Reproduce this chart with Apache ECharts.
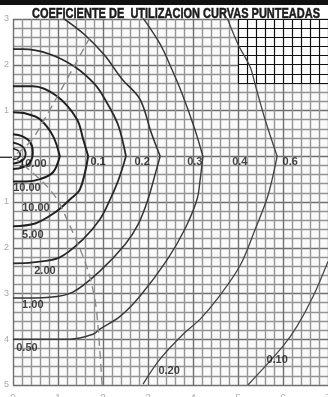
<!DOCTYPE html>
<html>
<head>
<meta charset="utf-8">
<script src="https://cdn.jsdelivr.net/npm/echarts@6/dist/echarts.min.js"></script>
<style>
  html, body { margin: 0; padding: 0; background: #fff; }
  #chart { width: 328px; height: 397px; }
</style>
</head>
<body>
<div id="chart"></div>
<script>
// curvas (x, y) ; y negativo = mitad inferior
const ring1 = [[0, 0.17], [0.12, 0.12], [0.16, 0.02], [0.1, -0.05], [0, -0.07]]
const ring2 = [[0, 0.3], [0.2, 0.22], [0.28, 0.05], [0.2, -0.1], [0, -0.16]]
const ring3 = [[0, 0.48], [0.2, 0.44], [0.38, 0.31], [0.44, 0.09], [0.38, -0.13], [0.2, -0.25], [0, -0.28]]

const c104Up = [[0, 0.96], [0.3, 0.93], [0.6, 0.81], [0.89, 0.44], [1.04, 0]]
const c104Down = [[1.04, 0], [0.89, -0.35], [0.6, -0.5], [0.3, -0.55], [0, -0.55]]

const c167Up = [[0, 1.53], [0.44, 1.53], [0.98, 1.31], [1.42, 0.81], [1.56, 0.37], [1.67, 0]]
const c167Down = [[1.67, 0], [1.49, -0.72], [1.27, -0.94], [0.93, -1.23], [0.49, -1.47], [0, -1.53]]

const c251Up = [[0, 2.34], [0.22, 2.34], [0.82, 2.23], [1.38, 1.95], [1.82, 1.57], [2.04, 1.25], [2.33, 0.7], [2.51, 0]]
const c251Down = [[2.51, 0], [2.35, -0.5], [2.16, -0.94], [1.93, -1.38], [1.56, -1.81], [1.04, -2.21], [0.44, -2.32], [0, -2.34]]

const c327Up = [[1.11, 3.02], [1.6, 2.65], [2.04, 2.2], [2.42, 1.69], [2.82, 1.25], [3.07, 0.52], [3.27, 0]]
const c327Down = [[3.27, 0], [3.16, -0.39], [3.0, -0.94], [2.78, -1.49], [2.49, -1.93], [1.93, -2.51], [1.33, -2.97], [0.82, -3.08], [0, -3.1]]

const c422Up = [[2.89, 3.02], [3.27, 2.45], [3.53, 1.9], [3.76, 1.36], [4.04, 0.59], [4.22, 0]]
const c422Down = [[4.22, 0], [4.16, -0.5], [4.09, -0.94], [3.82, -1.59], [3.42, -2.27], [2.82, -3.06], [2.38, -3.5], [1.93, -3.78], [1.78, -3.89], [1.27, -4.0], [0, -4.0]]

const c587Up = [[4.76, 3.02], [5.0, 2.45], [5.27, 1.95], [5.38, 1.57], [5.6, 0.81], [5.87, 0]]
const c587Down = [[5.87, 0], [5.76, -0.5], [5.64, -0.94], [5.38, -1.6], [5.04, -2.4], [4.53, -3.13], [4.16, -3.56], [3.78, -3.89], [3.27, -4.43], [2.89, -4.98]]

const c010Down = [[7, -2.3], [6.67, -3.06], [6.31, -3.72], [6.0, -4.15], [5.22, -5.0]]

// curva punteada
const dashUp = [[1.71, 2.6], [0.53, 0.52], [0.27, 0.2], [0, 0]]
const dashDown = [[0, 0], [0.67, -0.57], [0.98, -0.94], [1.2, -1.38], [1.49, -2.03], [1.67, -2.51], [1.82, -3.13], [1.89, -3.72], [1.98, -5.0]]

// etiquetas de las curvas
const curveLabels = ['10.00', '10.00', '10.00', '5.00', '2.00', '1.00', '0.50', '0.20', '0.10', '0.1', '0.2', '0.3', '0.4', '0.6']
const labelX = [0.44, 0.31, 0.51, 0.44, 0.71, 0.44, 0.31, 3.47, 5.87, 1.89, 2.87, 4.04, 5.04, 6.16]
const labelY = [-0.17, -0.7, -1.14, -1.73, -2.51, -3.26, -4.2, -4.7, -4.46, -0.13, -0.13, -0.13, -0.13, -0.13]

const xTicks = [0, 1, 2, 3, 4, 5, 6, 7]

const titleText = 'COEFICIENTE DE  UTILIZACION CURVAS PUNTEADAS'

const chart = echarts.init(document.getElementById('chart'))

// grosor / color por curva
const solidCurves = [
  { data: ring1, w: 1.6, c: '#1e1e1e' },
  { data: ring2, w: 1.8, c: '#1e1e1e' },
  { data: ring3, w: 2, c: '#1e1e1e' },
  { data: c104Up, w: 2, c: '#1e1e1e' },
  { data: c104Down, w: 2, c: '#1e1e1e' },
  { data: c167Up, w: 2, c: '#222' },
  { data: c167Down, w: 2, c: '#222' },
  { data: c251Up, w: 1.8, c: '#2a2a2a' },
  { data: c251Down, w: 1.7, c: '#2a2a2a' },
  { data: c327Up, w: 1.6, c: '#333' },
  { data: c327Down, w: 1.5, c: '#333' },
  { data: c422Up, w: 1.4, c: '#3a3a3a' },
  { data: c422Down, w: 1.4, c: '#3a3a3a' },
  { data: c587Up, w: 1.3, c: '#444' },
  { data: c587Down, w: 1.3, c: '#444' },
  { data: c010Down, w: 1.3, c: '#4a4a4a' }
]

const series = solidCurves.map(item => ({
  type: 'line',
  xAxisIndex: 0,
  yAxisIndex: 0,
  data: item.data,
  smooth: 0.35,
  showSymbol: false,
  silent: true,
  z: 3,
  lineStyle: { color: item.c, width: item.w }
}))

;[dashUp, dashDown].forEach(d => {
  series.push({
    type: 'line',
    data: d,
    smooth: 0.3,
    showSymbol: false,
    silent: true,
    z: 3,
    lineStyle: { color: '#8a8a8a', width: 1.4, type: [8, 5] }
  })
})

series.push({
  type: 'scatter',
  symbolSize: 0,
  silent: true,
  z: 5,
  data: curveLabels.map((t, i) => ({ name: t, value: [labelX[i], labelY[i]] })),
  label: {
    show: true,
    position: 'inside',
    formatter: p => p.name,
    color: '#151515',
    fontWeight: 'bold',
    fontSize: 11,
    fontFamily: 'Liberation Sans'
  }
})

chart.setOption({
  backgroundColor: '#fff',
  animation: false,
  grid: [{
    left: 13,
    right: 0,
    top: 19,
    bottom: 12,
    outerBoundsMode: 'none',
    containLabel: false,
    show: true,
    backgroundColor: '#fafafa',
    borderWidth: 0
  }, {
    left: 238,
    width: 90,
    top: 19,
    height: 64,
    outerBoundsMode: 'none',
    containLabel: false,
    show: true,
    backgroundColor: '#fff',
    borderWidth: 0,
    z: 1
  }],
  xAxis: [{
    type: 'value',
    gridIndex: 0,
    min: 0,
    max: 7,
    interval: 1,
    axisLine: { show: false },
    axisTick: { show: false },
    axisLabel: {
      color: '#b0b0b0',
      fontSize: 10,
      margin: 9,
      formatter: v => (xTicks.indexOf(v) >= 0 ? String(v) : '')
    },
    splitLine: { show: true, lineStyle: { color: '#707070', width: 1.4 } },
    minorTick: { show: false, splitNumber: 5 },
    minorSplitLine: { show: true, lineStyle: { color: '#959595', width: 1.4 } }
  }, {
    type: 'value',
    gridIndex: 1,
    min: 5,
    max: 7,
    interval: 0.2,
    z: 1,
    axisLine: { show: false },
    axisTick: { show: false },
    axisLabel: { show: false },
    splitLine: { show: true, lineStyle: { color: '#111', width: 1.2 } }
  }],
  yAxis: [{
    type: 'value',
    gridIndex: 0,
    min: -5,
    max: 3,
    interval: 1,
    axisLine: { show: false },
    axisTick: { show: false },
    axisLabel: {
      color: '#a8a8a8',
      fontSize: 9,
      margin: 4,
      formatter: v => (v === 0 ? '' : String(Math.abs(v)))
    },
    splitLine: { show: true, lineStyle: { color: '#707070', width: 1.4 } },
    minorTick: { show: false, splitNumber: 5 },
    minorSplitLine: { show: true, lineStyle: { color: '#959595', width: 1.4 } }
  }, {
    type: 'value',
    gridIndex: 1,
    min: 1.6,
    max: 3,
    interval: 0.2,
    z: 1,
    axisLine: { show: false },
    axisTick: { show: false },
    axisLabel: { show: false },
    splitLine: { show: true, lineStyle: { color: '#111', width: 1.2 } }
  }],
  series: series
})

// titulo condensado: se mide y se estrecha para ocupar el mismo ancho
const titleFont = 'bold 15px "Liberation Sans"'
const ctx = document.createElement('canvas').getContext('2d')
ctx.font = titleFont
const titleScale = 288 / ctx.measureText(titleText).width

// barra negra superior y marca del eje en y = 0
const origin = chart.convertToPixel({ gridIndex: 0 }, [0, 0])
chart.setOption({
  graphic: [{
    type: 'rect',
    shape: { x: 0, y: 0, width: 328, height: 5 },
    style: { fill: '#111' }
  }, {
    type: 'text',
    x: 176,
    y: 13.5,
    scaleX: titleScale,
    style: {
      text: titleText,
      font: titleFont,
      fill: '#1a1a1a',
      stroke: '#1a1a1a',
      lineWidth: 0.5,
      textAlign: 'center',
      textVerticalAlign: 'middle'
    }
  }, {
    type: 'line',
    shape: { x1: 0, y1: origin[1] + 1, x2: origin[0] - 1, y2: origin[1] + 1 },
    style: { stroke: '#111', lineWidth: 1.2 }
  }]
})
</script>
</body>
</html>
